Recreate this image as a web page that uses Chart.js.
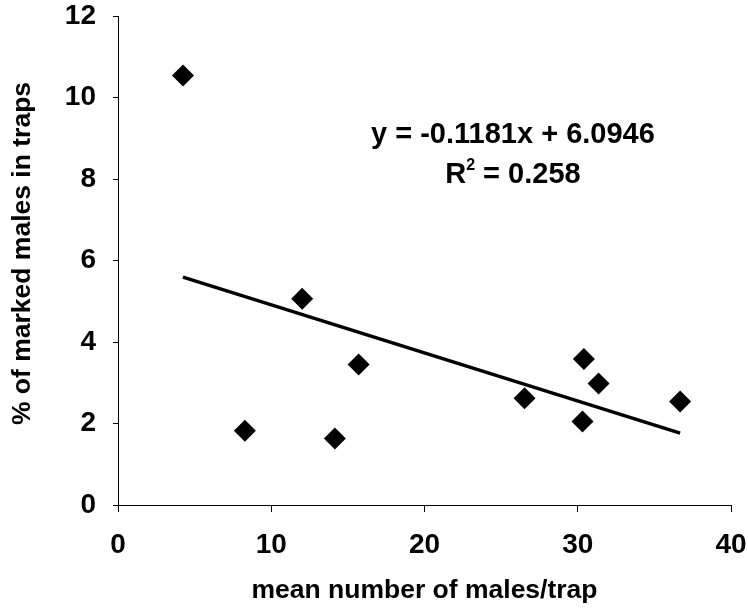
<!DOCTYPE html>
<html>
<head>
<meta charset="utf-8">
<script src="https://cdn.jsdelivr.net/npm/chart.js@4/dist/chart.umd.min.js"></script>
<style>
  html, body { margin: 0; padding: 0; background: #fff; }
  #wrap { width: 748px; height: 610px; position: relative; }
</style>
</head>
<body>
<div id="wrap"><canvas id="c" width="748" height="610"></canvas></div>
<script>
// Mean number of males per trap and share of marked males recaptured
const meanMales   = [4.24, 8.28, 12.02, 14.15, 15.7, 26.53, 30.4, 30.31, 31.36, 36.68];
const pctMarked   = [10.54, 1.82, 5.06, 1.63, 3.45, 2.62, 3.58, 2.05, 2.98, 2.54];

// Linear trend reported on the chart
const trendSlope = -0.1181;
const trendIntercept = 6.0946;
const rSquared = 0.258;

const xTicks = [0, 10, 20, 30, 40];
const yTicks = [0, 2, 4, 6, 8, 10, 12];

const xTitle = 'mean number of males/trap';
const yTitle = '% of marked males in traps';

const FONT = "'Liberation Sans', Arial, sans-serif";

const points = meanMales.map((x, i) => ({ x: x, y: pctMarked[i] }));
const xMin = Math.min(...meanMales), xMax = Math.max(...meanMales);
const trend = [xMin, xMax].map(x => ({ x: x, y: trendSlope * x + trendIntercept }));

// Writes the regression equation and R² in the plot area
const equationLabel = {
  id: 'equationLabel',
  afterDatasetsDraw(chart) {
    const { ctx, scales: { x, y } } = chart;
    const cx = x.getPixelForValue(25.77);
    const y1 = y.getPixelForValue(9.09);
    const y2 = y.getPixelForValue(8.11);
    ctx.save();
    ctx.fillStyle = '#000';
    ctx.textBaseline = 'middle';
    ctx.textAlign = 'center';
    ctx.font = "bold 29px " + FONT;
    const sign = trendIntercept >= 0 ? ' + ' : ' - ';
    ctx.fillText('y = ' + trendSlope.toFixed(4) + 'x' + sign + Math.abs(trendIntercept).toFixed(4), cx, y1);

    // R with superscript 2
    const big = "bold 29px " + FONT, small = "bold 16px " + FONT;
    ctx.font = big;
    const wR = ctx.measureText('R').width;
    const rest = ' = ' + rSquared.toFixed(3);
    const wRest = ctx.measureText(rest).width;
    ctx.font = small;
    const w2 = ctx.measureText('2').width;
    const total = wR + w2 + wRest;
    let left = cx - total / 2;
    ctx.textAlign = 'left';
    ctx.font = big;
    ctx.fillText('R', left, y2);
    ctx.font = small;
    ctx.fillText('2', left + wR, y2 - 9);
    ctx.font = big;
    ctx.fillText(rest, left + wR + w2, y2);
    ctx.restore();
  }
};

// Vertical axis caption, set a little above the plot's mid-height
const yCaption = {
  id: 'yCaption',
  afterDraw(chart) {
    const { ctx, chartArea } = chart;
    ctx.save();
    ctx.fillStyle = '#000';
    ctx.font = "bold 26.5px " + FONT;
    ctx.textAlign = 'center';
    ctx.textBaseline = 'middle';
    ctx.translate(23, (chartArea.top + chartArea.bottom) / 2 - 7);
    ctx.rotate(-Math.PI / 2);
    ctx.fillText(yTitle, 0, 0);
    ctx.restore();
  }
};

new Chart(document.getElementById('c'), {
  type: 'scatter',
  data: {
    datasets: [
      {
        label: 'trend',
        type: 'line',
        data: trend,
        borderColor: '#000',
        borderWidth: 3.5,
        pointRadius: 0,
        fill: false,
        order: 2
      },
      {
        label: 'traps',
        data: points,
        pointStyle: 'rectRot',
        pointRadius: 11,
        pointHoverRadius: 11,
        backgroundColor: '#000',
        borderColor: '#000',
        borderWidth: 0,
        order: 1
      }
    ]
  },
  options: {
    responsive: false,
    animation: false,
    devicePixelRatio: 1,
    layout: { padding: { top: 0, right: 0, left: 0, bottom: 0 } },
    plugins: {
      legend: { display: false },
      tooltip: { enabled: false }
    },
    scales: {
      x: {
        type: 'linear',
        min: 0, max: 40,
        afterBuildTicks(s) { s.ticks = xTicks.map(v => ({ value: v })); },
        afterFit(s) { s.height = 105; s.paddingLeft = 0; s.paddingRight = 17; },
        border: { color: '#000', width: 1 },
        grid: { drawOnChartArea: false, color: '#000', tickLength: 7, tickWidth: 1 },
        ticks: {
          color: '#000',
          padding: 16,
          maxRotation: 0,
          font: { family: FONT, size: 28, weight: 'bold' }
        },
        title: {
          display: true,
          text: xTitle,
          color: '#000',
          padding: { top: 0, bottom: 3 },
          font: { family: FONT, size: 26.5, weight: 'bold' }
        }
      },
      y: {
        type: 'linear',
        min: 0, max: 12,
        afterBuildTicks(s) { s.ticks = yTicks.map(v => ({ value: v })); },
        afterFit(s) { s.width = 118; s.paddingTop = 16; s.paddingBottom = 0; },
        border: { color: '#000', width: 1 },
        grid: { drawOnChartArea: false, color: '#000', tickLength: 5, tickWidth: 1 },
        ticks: {
          color: '#000',
          padding: 17,
          font: { family: FONT, size: 28, weight: 'bold' }
        },
        title: { display: false }
      }
    }
  },
  plugins: [equationLabel, yCaption]
});
</script>
</body>
</html>
